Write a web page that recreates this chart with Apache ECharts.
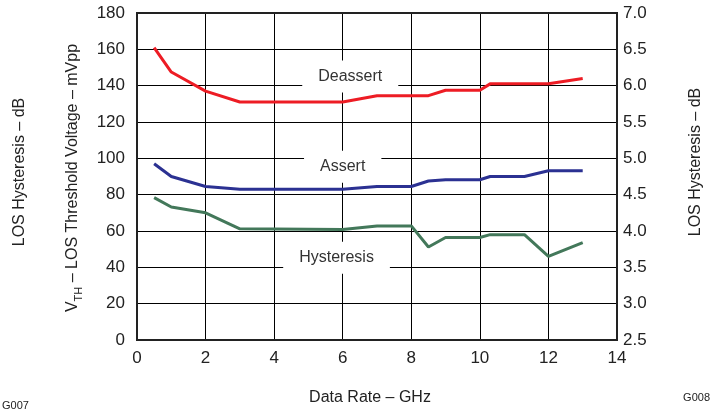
<!DOCTYPE html>
<html>
<head>
<meta charset="utf-8">
<script src="https://cdn.jsdelivr.net/npm/echarts@6/dist/echarts.min.js"></script>
<style>
html,body{margin:0;padding:0;background:#fff;}
#c{width:713px;height:413px;}
</style>
</head>
<body>
<div id="c"></div>
<script>
const dataRate = [0.5, 1, 2, 3, 6, 7, 8, 8.5, 9, 10, 10.3, 11.3, 12, 13];
const deassert = [161, 147.5, 137, 131, 131, 134.5, 134.5, 134.5, 137.5, 137.5, 141, 141, 141, 144];
const assert = [97, 90, 84.5, 83, 83, 84.5, 84.5, 87.5, 88.2, 88.2, 90, 90, 93.2, 93.2];
const hysteresis = [4.46, 4.33, 4.25, 4.03, 4.02, 4.07, 4.07, 3.78, 3.91, 3.91, 3.95, 3.95, 3.65, 3.84];
const seriesNames = ['Deassert', 'Assert', 'Hysteresis'];
const labelPos = [[6.22, 145], [6.0, 95.4], [5.82, 45.3]];

const FONT = 'Liberation Sans, Arial, sans-serif';
const TXT = '#222';
const chart = echarts.init(document.getElementById('c'), null, {renderer: 'canvas'});

function pairs(ys) { return dataRate.map((x, i) => [x, ys[i]]); }

const option = {
  animation: false,
  backgroundColor: '#fff',
  grid: {left: 137, top: 13, width: 480, height: 327, show: true, borderColor: '#222', borderWidth: 2, backgroundColor: 'transparent', z: 3},
  xAxis: {
    type: 'value', min: 0, max: 14, interval: 2,
    axisLine: {show: false}, axisTick: {show: false},
    splitLine: {show: true, lineStyle: {color: '#000', width: 1}},
    axisLabel: {color: TXT, fontSize: 17, fontFamily: FONT, margin: 10}
  },
  yAxis: [
    {type: 'value', min: 0, max: 180, interval: 20,
     axisLine: {show: false}, axisTick: {show: false},
     splitLine: {show: true, lineStyle: {color: '#000', width: 1}},
     axisLabel: {color: TXT, fontSize: 17, fontFamily: FONT, margin: 12}},
    {type: 'value', min: 2.5, max: 7.0, interval: 0.5, position: 'right',
     axisLine: {show: false}, axisTick: {show: false},
     splitLine: {show: false},
     axisLabel: {color: TXT, fontSize: 17, fontFamily: FONT, margin: 6, formatter: v => v.toFixed(1)}}
  ],
  series: [
    {name: seriesNames[0], type: 'line', data: pairs(deassert), showSymbol: false, lineStyle: {color: '#ed1c24', width: 3}, z: 5},
    {name: seriesNames[1], type: 'line', data: pairs(assert), showSymbol: false, lineStyle: {color: '#2b3192', width: 3}, z: 5},
    {name: seriesNames[2], type: 'line', yAxisIndex: 1, data: pairs(hysteresis), showSymbol: false, lineStyle: {color: '#43785a', width: 3}, z: 5}
  ]
};
chart.setOption(option);

const gfx = [];
labelPos.forEach((p, i) => {
  const px = chart.convertToPixel({xAxisIndex: 0, yAxisIndex: 0}, p);
  gfx.push({type: 'text', x: px[0], y: px[1], z: 4,
    style: {text: seriesNames[i], fill: '#333', font: '16px ' + FONT, align: 'center', verticalAlign: 'middle',
      backgroundColor: '#fff', padding: [8, 16]}});
});
// axis titles
gfx.push({type: 'text', x: 20, y: 172, rotation: Math.PI / 2,
  style: {text: 'LOS Hysteresis – dB', fill: TXT, font: '16px ' + FONT, align: 'center', verticalAlign: 'middle'}});
gfx.push({type: 'text', x: 73, y: 178, rotation: Math.PI / 2,
  style: {text: '{a|V}{b|TH}{a| – LOS Threshold Voltage – mVpp}', align: 'center', verticalAlign: 'middle',
    rich: {a: {fontSize: 16, fontFamily: FONT, fill: TXT, color: TXT},
           b: {fontSize: 11, fontFamily: FONT, fill: TXT, color: TXT, padding: [12, 0, 0, 0]}}}});
gfx.push({type: 'text', x: 696, y: 162, rotation: Math.PI / 2,
  style: {text: 'LOS Hysteresis – dB', fill: TXT, font: '16px ' + FONT, align: 'center', verticalAlign: 'middle'}});
gfx.push({type: 'text', x: 370, y: 398,
  style: {text: 'Data Rate – GHz', fill: TXT, font: '16px ' + FONT, align: 'center', verticalAlign: 'middle'}});
gfx.push({type: 'text', x: 2, y: 406,
  style: {text: 'G007', fill: TXT, font: '11px ' + FONT, align: 'left', verticalAlign: 'middle'}});
gfx.push({type: 'text', x: 710, y: 398,
  style: {text: 'G008', fill: TXT, font: '11px ' + FONT, align: 'right', verticalAlign: 'middle'}});
chart.setOption({graphic: gfx});
</script>
</body>
</html>
